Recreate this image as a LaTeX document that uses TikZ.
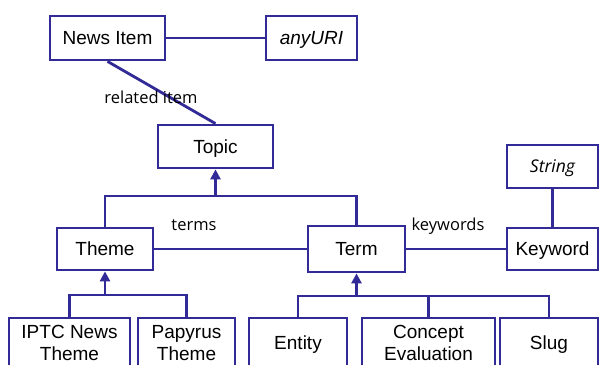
\documentclass[tikz,border=0pt]{standalone}
\usepackage{fontspec}
\setmainfont{Liberation Sans}
\newfontfamily\labelfont{Open Sans}
\usetikzlibrary{arrows.meta}
\definecolor{umlblue}{RGB}{50,42,150}
\tikzset{
  box/.style={draw=umlblue, line width=2.8pt, fill=white, inner sep=0pt,
    font=\fontsize{19}{22}\selectfont, align=center},
  single/.style={text height=13.7pt, text depth=0pt},
  conn/.style={draw=umlblue, line width=2.8pt},
  gen/.style={conn, -{Triangle[length=10pt,width=10pt]}},
  lbl/.style={font=\labelfont\fontsize{16.5}{19}\selectfont, inner sep=0pt}
}
\begin{document}
\begin{tikzpicture}[x=1pt,y=-1pt]
\useasboundingbox (0,0) rectangle (599,364);
\clip (0,0) rectangle (599,364);
\fill[white] (0,0) rectangle (599,364);
\node[box, single, minimum width=115pt, minimum height=44pt] (news) at (107.5,38) {News Item};
\node[box, single, minimum width=91pt, minimum height=44pt] (uri) at (311.5,38) {\itshape anyURI};
\node[box, single, minimum width=115pt, minimum height=43pt] (topic) at (215.5,146.5) {Topic};
\node[box, single, minimum width=96pt, minimum height=42pt] (theme) at (105,249) {Theme};
\node[box, single, minimum width=97pt, minimum height=46pt] (term) at (356.5,249) {Term};
\node[box, single, minimum width=91pt, minimum height=42pt] (keyword) at (552.5,249) {Keyword};
\node[box, minimum width=91pt, minimum height=43pt, text height=12.5pt, text depth=0pt, font=\labelfont\itshape\fontsize{17.5}{20}\selectfont] (string) at (552.5,166.5) {String};
\node[box, minimum width=121pt, minimum height=50pt] (iptc) at (69.5,343) {IPTC News\\Theme};
\node[box, minimum width=97pt, minimum height=50pt] (papyrus) at (186.5,343) {Papyrus\\Theme};
\node[box, single, minimum width=98pt, minimum height=50pt] (entity) at (298,343) {Entity};
\node[box, minimum width=133pt, minimum height=50pt] (concept) at (428.5,343) {Concept\\Evaluation};
\node[box, single, minimum width=98pt, minimum height=50pt] (slug) at (549,343) {Slug};

\coordinate (j1) at (215.5,196);
\coordinate (j2) at (356.5,296);
\coordinate (j3) at (105,295);

\draw[conn] (news.east) -- (uri.west);
\draw[conn] (news.south) -- (topic.north);
\draw[conn] (theme.north) |- (j1) -| (term.north);
\draw[gen] (j1) -- (topic.south);
\draw[conn] (theme.east) -- (term.west);
\draw[conn] (term.east) -- (keyword.west);
\draw[conn] (string.south) -- (keyword.north);
\draw[conn] (entity.north) |- (j2) -| (slug.north);
\draw[conn] (concept.north) -- (concept.north |- j2);
\draw[gen] (j2) -- (term.south);
\draw[conn] (iptc.north) |- (j3) -| (papyrus.north);
\draw[gen] (j3) -- (theme.south);

\node[lbl] (lrel) at (151,97) {related item};
\node[lbl] (lterms) at (194,225) {terms};
\node[lbl] (lkey) at (448,226) {keywords};
\end{tikzpicture}
\end{document}
